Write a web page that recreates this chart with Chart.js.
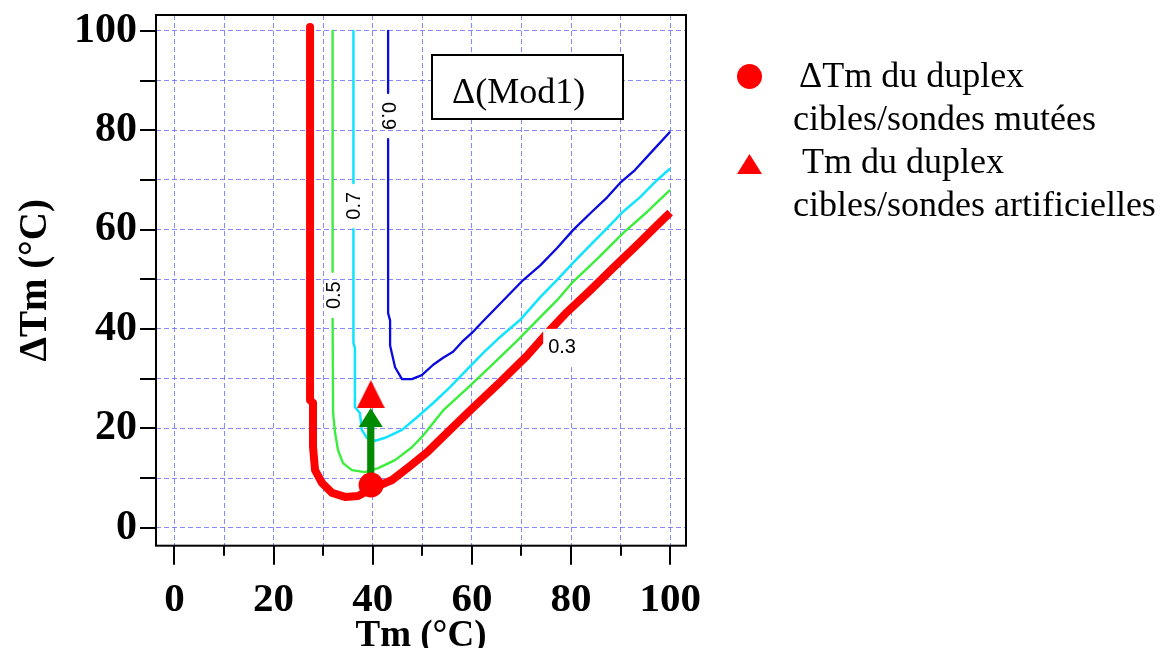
<!DOCTYPE html>
<html><head><meta charset="utf-8">
<script src="https://cdn.jsdelivr.net/npm/chart.js@4.4.1/dist/chart.umd.min.js"></script>
<style>html,body{margin:0;padding:0;background:#fff;overflow:hidden}#wrap{position:relative;width:1170px;height:648px}</style>
</head><body><div id="wrap"><canvas id="c" width="1170" height="648"></canvas></div>
<script>
// ---- data ----
const xTickLabels = ['0','20','40','60','80','100'];
const yTickLabels = ['0','20','40','60','80','100'];
const levelLabels = ['0.3','0.5','0.7','0.9'];

// contour 0.3 (thick red)
const tm03  = [27.35,27.35,27.95,27.95,28.36,29.77,31.79,34.41,37.03,39.66,43.9,47.5,51.0,55.6,60.2,65.7,71.1,75.2,79.2,83.9,88.5,93.3,97.4,100.0];
const dtm03 = [100.8,25.7,25.1,16.3,11.6,9.0,7.0,6.2,6.4,7.8,9.6,12.4,15.2,19.7,24.1,29.3,34.6,39.2,43.4,47.8,52.3,56.9,60.9,63.4];
// contour 0.5 (green)
const tm05  = [31.9,31.9,31.9,31.9,32.0,32.4,33.0,34.0,35.8,38.4,41.1,44.5,47.9,50.2,54.2,59.0,63.7,69.1,73.8,77.2,80.4,85.5,90.5,95.4,100.0];
const dtm05 = [100.0,51.5,null,42.2,23.1,19.1,15.6,13.0,11.6,11.2,12.0,13.6,16.2,18.6,23.6,28.0,32.4,37.6,42.4,45.8,49.5,54.3,59.3,63.6,68.0];
// contour 0.7 (cyan)
const tm07  = [36.1,36.1,36.1,36.1,36.1,36.4,36.4,37.4,37.8,38.8,40.5,42.5,45.9,49.0,52.2,55.6,59.0,62.3,65.7,69.7,73.8,77.2,80.4,83.9,87.3,90.5,93.9,97.4,100.0];
const dtm07 = [100.0,69.4,null,60.1,37.2,36.2,24.3,23.1,19.7,18.1,17.5,18.1,19.7,22.3,25.1,28.3,31.8,35.2,38.4,41.8,46.4,49.9,53.3,56.9,60.3,63.6,66.5,70.0,72.3];
// contour 0.9 (blue)
const tm09  = [43.1,43.1,43.1,43.1,43.1,43.5,43.5,44.5,45.9,47.9,49.9,52.2,54.2,56.2,58.0,60.0,62.1,70.3,73.8,77.2,80.4,83.9,87.3,89.9,92.9,96.4,100.0];
const dtm09 = [100.0,87.5,null,78.2,43.2,41.7,36.7,32.3,29.9,29.9,30.7,32.8,34.2,35.4,37.4,39.2,41.4,49.8,52.8,56.3,59.9,63.3,66.5,69.4,72.0,75.8,79.7];

// markers
const mutTm  = [39.66];   // ΔTm du duplex cibles/sondes mutées
const mutDTm = [8.6];
const artTm  = [39.6];    // Tm du duplex cibles/sondes artificielles
const artDTm = [26.9];
// arrow (Tm, from ΔTm, to ΔTm)
const arrowTm = [39.6];
const arrowFrom = [10.2];
const arrowTo = [24.1];

// label anchor positions (data units)
const labelTm  = [78.2, 32.0, 36.1, 43.1];
const labelDTm = [36.4, 46.8, 64.8, 82.9];

// ---- styles ----
const SERIF = '"Liberation Serif","Times New Roman",serif';
const SANS = '"Liberation Sans",Arial,sans-serif';
const labelRot = [0, -Math.PI/2, -Math.PI/2, Math.PI/2];
const GRID = 'rgba(95,95,255,0.75)';

const pairs = (xs, ys) => xs.map((x, i) => ({x: x, y: ys[i]}));

function triImage(w, h, color){
  const c = document.createElement('canvas'); c.width = w; c.height = h;
  const g = c.getContext('2d'); g.fillStyle = color;
  g.beginPath(); g.moveTo(w/2, 0); g.lineTo(w, h); g.lineTo(0, h); g.closePath(); g.fill();
  return c;
}
const tri = triImage(28, 28, '#ff0000');

const tickLabel = (labels) => function(v){
  const s = String(Math.round(v));
  return labels.indexOf(s) >= 0 && Math.abs(v - Math.round(v)) < 1e-6 ? s : '';
};

const framePlugin = {
  id: 'frame',
  afterDatasetDraw(chart, args){
    if (args.index !== 2) return; // after lines, before markers
    const {ctx, scales: {x, y}} = chart;
    ctx.save();
    ctx.fillStyle = '#008a00';
    for (let i = 0; i < arrowTm.length; i++){
      const px = x.getPixelForValue(arrowTm[i]);
      const p0 = y.getPixelForValue(arrowFrom[i]);
      const p1 = y.getPixelForValue(arrowTo[i]);
      const headLen = 19, headW = 12, shaft = 3.6;
      ctx.fillRect(px - shaft, p1 + headLen - 0.5, shaft*2, p0 - p1 - headLen + 0.5);
      ctx.beginPath(); ctx.moveTo(px, p1); ctx.lineTo(px + headW, p1 + headLen); ctx.lineTo(px - headW, p1 + headLen); ctx.closePath(); ctx.fill();
    }
    ctx.restore();
  },
  afterDatasetsDraw(chart){
    const {ctx, chartArea: a, scales: {x, y}} = chart;
    ctx.save();
    // contour labels
    ctx.font = '20px ' + SANS; ctx.textAlign = 'center'; ctx.textBaseline = 'middle';
    for (let i = 0; i < levelLabels.length; i++){
      const px = x.getPixelForValue(labelTm[i]), py = y.getPixelForValue(labelDTm[i]);
      ctx.save(); ctx.translate(px, py); ctx.rotate(labelRot[i]);
      if (labelRot[i] === 0){
        const w = ctx.measureText(levelLabels[i]).width + 10;
        ctx.fillStyle = '#fff'; ctx.fillRect(-w/2, -18, w, 36);
      }
      ctx.fillStyle = '#000'; ctx.fillText(levelLabels[i], 0, 1);
      ctx.restore();
    }
    // Δ(Mod1) box
    ctx.fillStyle = '#fff'; ctx.fillRect(432, 55, 191, 64);
    ctx.strokeStyle = '#000'; ctx.lineWidth = 2; ctx.strokeRect(432, 55, 191, 64);
    ctx.fillStyle = '#000'; ctx.font = '36px ' + SERIF; ctx.textAlign = 'left'; ctx.textBaseline = 'alphabetic';
    ctx.fillText('Δ(Mod1)', 452, 103);
    ctx.restore();
  },
  afterDraw(chart){
    const {ctx, chartArea: a, scales: {x, y}} = chart;
    ctx.save();
    ctx.strokeStyle = '#000'; ctx.lineWidth = 2;
    ctx.strokeRect(a.left, a.top, a.right - a.left, a.bottom - a.top);
    ctx.beginPath();
    x.ticks.forEach(t => {
      const px = Math.round(x.getPixelForValue(t.value));
      const major = Math.round(t.value) % 20 === 0;
      ctx.moveTo(px, a.bottom); ctx.lineTo(px, a.bottom + (major ? 19 : 10));
    });
    y.ticks.forEach(t => {
      const py = Math.round(y.getPixelForValue(t.value));
      ctx.moveTo(a.left - 16, py); ctx.lineTo(a.left, py);
    });
    ctx.stroke();
    // legend
    const ds = chart.data.datasets;
    ctx.fillStyle = ds[0].backgroundColor;
    ctx.beginPath(); ctx.arc(749.5, 76.5, 12.5, 0, Math.PI*2); ctx.fill();
    ctx.fillStyle = ds[1].backgroundColor;
    ctx.beginPath(); ctx.moveTo(749.5, 154); ctx.lineTo(762, 174); ctx.lineTo(737, 174); ctx.closePath(); ctx.fill();
    ctx.fillStyle = '#000'; ctx.font = '36px ' + SERIF; ctx.textAlign = 'left'; ctx.textBaseline = 'alphabetic';
    ctx.fillText('ΔTm du duplex', 799, 87);
    ctx.fillText('cibles/sondes mutées', 793, 130);
    ctx.fillText('Tm du duplex', 802, 173);
    ctx.fillText('cibles/sondes artificielles', 793, 216);
    ctx.restore();
  }
};

const lineDs = (label, xs, ys, color, width) => ({
  label: label, data: pairs(xs, ys), showLine: true, borderColor: color, backgroundColor: color,
  borderWidth: width, pointRadius: 0, spanGaps: false, tension: 0, borderJoinStyle: 'round'
});

new Chart(document.getElementById('c'), {
  type: 'scatter',
  data: { datasets: [
    { label: 'ΔTm du duplex cibles/sondes mutées', data: pairs(mutTm, mutDTm), pointStyle: 'circle', pointRadius: 12.5, backgroundColor: '#ff0000', borderWidth: 0 },
    { label: 'Tm du duplex cibles/sondes artificielles', data: pairs(artTm, artDTm), pointStyle: tri, pointRadius: 14, backgroundColor: '#ff0000', borderWidth: 0 },
    lineDs(levelLabels[0], tm03, dtm03, '#ff0000', 8),
    lineDs(levelLabels[1], tm05, dtm05, '#3cee3c', 2.4),
    lineDs(levelLabels[2], tm07, dtm07, '#10e4ff', 2.5),
    lineDs(levelLabels[3], tm09, dtm09, '#0a0ae0', 2.3)
  ]},
  options: {
    responsive: false, animation: false, devicePixelRatio: 1,
    layout: { padding: { left: 0, top: 15, right: 484, bottom: 0 } },
    plugins: { legend: { display: false }, tooltip: { enabled: false } },
    scales: {
      x: {
        type: 'linear', min: -3.73, max: 103.2,
        afterFit: s => { s.height = 102.3; s.paddingLeft = 0; s.paddingRight = 0; s.paddingTop = 0; s.paddingBottom = 0; },
        ticks: { stepSize: 10, includeBounds: false, autoSkip: false, maxRotation: 0, padding: 30, color: '#000',
          font: { family: SERIF, weight: 'bold', size: 41, lineHeight: 1.2 }, callback: tickLabel(xTickLabels) },
        grid: { color: GRID, lineWidth: 1, drawTicks: false },
        border: { display: false, dash: [5, 3] },
        title: { display: true, text: 'Tm (°C)', color: '#000', padding: 0,
          font: { family: SERIF, weight: 'bold', size: 37, lineHeight: 0.62 } }
      },
      y: {
        type: 'linear', min: -3.62, max: 103.2,
        afterFit: s => { s.width = 156; s.paddingLeft = 0; s.paddingRight = 0; s.paddingTop = 0; s.paddingBottom = 0; },
        ticks: { stepSize: 10, includeBounds: false, autoSkip: false, padding: 19, color: '#000',
          font: { family: SERIF, weight: 'bold', size: 42, lineHeight: 1.2 }, callback: tickLabel(yTickLabels) },
        grid: { color: GRID, lineWidth: 1, drawTicks: false },
        border: { display: false, dash: [5, 3] },
        title: { display: true, text: 'ΔTm (°C)', color: '#000', padding: { top: 13, bottom: 0 },
          font: { family: SERIF, weight: 'bold', size: 39, lineHeight: 1.2 } }
      }
    }
  },
  plugins: [framePlugin]
});
</script>
</body></html>
